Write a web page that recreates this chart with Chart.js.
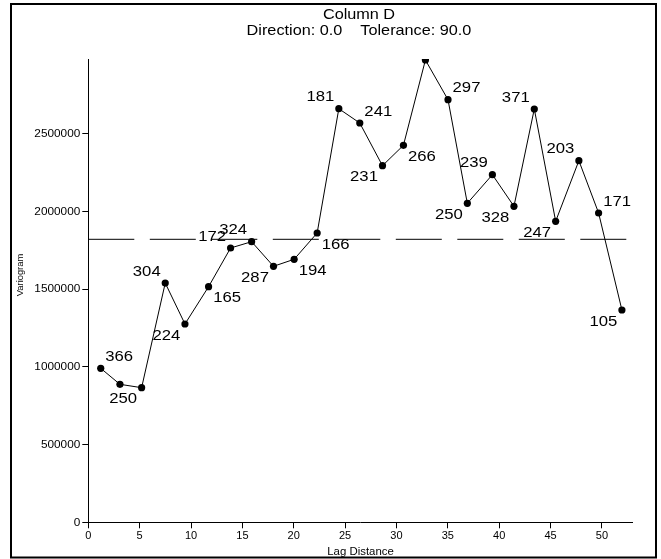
<!DOCTYPE html>
<html>
<head>
<meta charset="utf-8">
<script src="https://cdn.jsdelivr.net/npm/chart.js@4/dist/chart.umd.min.js"></script>
<style>
  html, body { margin: 0; padding: 0; background: #ffffff; }
  #wrap { width: 661px; height: 559px; position: relative; }
</style>
</head>
<body>
<div id="wrap"><canvas id="chart" width="661" height="559"></canvas></div>
<script>
// Experimental variogram, Column D (direction 0.0, tolerance 90.0)
const lagDistance = [1.21, 3.08, 5.19, 7.49, 9.41, 11.71, 13.85, 15.90, 18.03, 20.04, 22.28, 24.39, 26.43,
                     28.64, 30.68, 32.82, 35.02, 36.90, 39.34, 41.44, 43.42, 45.50, 47.76, 49.68, 51.95];
const variogram = [990500, 887600, 865800, 1539000, 1275500, 1515400, 1764300, 1804900, 1646600, 1691700,
                   1860800, 2660300, 2568300, 2293700, 2424900, 2973600, 2718200, 2051800, 2235800, 2032500,
                   2658400, 1936100, 2325900, 1989500, 1365500];
// number of pairs in each lag (null = not printed)
const pairCount = [366, null, 250, 304, 224, 165, 172, 324, 287, 194, 166, 181, 241,
                   231, 266, null, 297, 250, 239, 328, 371, 247, 203, 171, 105];
// where each pair count sits relative to its point: u/l = upper/lower, l/r = left/right
const pairLabelSide = ['ur', null, 'll', 'ul', 'll', 'lr', 'ul', 'ul', 'll', 'lr', 'lr', 'ul', 'ur',
                       'll', 'lr', null, 'ur', 'll', 'ul', 'll', 'ul', 'll', 'ul', 'ur', 'll'];
const sampleVariance = 1820300;
const lagRange = [0, 53];
const variogramRange = [0, 2980000];
const lagTicks = [0, 5, 10, 15, 20, 25, 30, 35, 40, 45, 50];
const variogramTicks = [0, 500000, 1000000, 1500000, 2000000, 2500000];
const titleLines = ['Column D', 'Direction: 0.0    Tolerance: 90.0'];
const xTitle = 'Lag Distance';
const yTitle = 'Variogram';

const FONT = '"Liberation Sans", Arial, Helvetica, sans-serif';
const WIDE = 1.1;   // the graph's lettering is slightly wider than plain Arial

const points = lagDistance.map((x, i) => ({ x: x, y: variogram[i] }));
const sillLine = lagRange.map(x => ({ x: x, y: sampleVariance }));

function wideText(ctx, text, x, y, size, stretch, angle) {
  ctx.save();
  ctx.translate(x, y);
  if (angle) ctx.rotate(angle);
  ctx.scale(stretch, 1);
  ctx.font = size + 'px ' + FONT;
  ctx.fillStyle = '#000000';
  ctx.textAlign = 'center';
  ctx.textBaseline = 'middle';
  ctx.fillText(text, 0, 0);
  ctx.restore();
}

// border, heading and vertical axis caption
const decorPlugin = {
  id: 'decor',
  afterDraw(chart) {
    const ctx = chart.ctx;
    ctx.save();
    ctx.strokeStyle = '#000000';
    ctx.lineWidth = 2;
    ctx.strokeRect(11, 4, 645, 553.5);
    ctx.restore();
    const cx = (chart.chartArea.left + chart.chartArea.right) / 2 - 1.5;
    wideText(ctx, titleLines[0], cx, 15.4, 14.5, 1.12);
    wideText(ctx, titleLines[1], cx, 30.6, 14.5, 1.12);
    wideText(ctx, yTitle, 20.5, 275, 8.5, WIDE, -Math.PI / 2);
  }
};

// pair counts printed diagonally next to each point
const pairLabelPlugin = {
  id: 'pairLabels',
  afterDatasetsDraw(chart) {
    const meta = chart.getDatasetMeta(0);
    const ctx = chart.ctx;
    meta.data.forEach((pt, i) => {
      const n = pairCount[i];
      const side = pairLabelSide[i];
      if (n === null || !side) return;
      const dx = side[1] === 'r' ? 18.5 : -18.5;
      const dy = side[0] === 'u' ? -11.5 : 11.5;
      wideText(ctx, String(n), pt.x + dx, pt.y + dy, 15.2, WIDE);
    });
  }
};

new Chart(document.getElementById('chart'), {
  type: 'scatter',
  data: {
    datasets: [
      {
        data: points,
        showLine: true,
        borderColor: '#000000',
        borderWidth: 1,
        backgroundColor: '#000000',
        pointBackgroundColor: '#000000',
        pointBorderColor: '#000000',
        pointRadius: 3.6,
        pointBorderWidth: 0,
        tension: 0
      },
      {
        data: sillLine,
        showLine: true,
        borderColor: '#000000',
        borderWidth: 1,
        borderDash: [46, 15.5],
        pointRadius: 0,
        tension: 0
      }
    ]
  },
  options: {
    responsive: false,
    animation: false,
    devicePixelRatio: 1,
    layout: { padding: { top: 59, right: 28.3, bottom: 0, left: 0 } },
    plugins: {
      legend: { display: false },
      tooltip: { enabled: false },
      title: { display: false }
    },
    scales: {
      x: {
        type: 'linear',
        min: lagRange[0],
        max: lagRange[1],
        afterFit(scale) { scale.height = 36.7; },
        afterBuildTicks(scale) { scale.ticks = lagTicks.map(v => ({ value: v })); },
        ticks: {
          color: '#000000',
          font: { family: FONT, size: 11 },
          padding: 1,
          maxRotation: 0,
          autoSkip: false,
          callback: v => String(v)
        },
        grid: { drawOnChartArea: false, drawTicks: true, tickLength: 6, color: '#000000', lineWidth: 1 },
        border: { display: true, color: '#000000', width: 1 },
        title: {
          display: true,
          text: xTitle,
          color: '#000000',
          font: { family: FONT, size: 11.4, lineHeight: 1.2 },
          padding: { top: 0, bottom: 0.5 }
        }
      },
      y: {
        type: 'linear',
        min: variogramRange[0],
        max: variogramRange[1],
        afterFit(scale) { scale.width = 88.3; },
        afterBuildTicks(scale) { scale.ticks = variogramTicks.map(v => ({ value: v })); },
        ticks: {
          color: '#000000',
          font: { family: FONT, size: 11.8 },
          padding: 2,
          autoSkip: false,
          callback: v => String(v)
        },
        grid: { drawOnChartArea: false, drawTicks: true, tickLength: 6, color: '#000000', lineWidth: 1 },
        border: { display: true, color: '#000000', width: 1 },
        title: { display: false }
      }
    }
  },
  plugins: [decorPlugin, pairLabelPlugin]
});
</script>
</body>
</html>
